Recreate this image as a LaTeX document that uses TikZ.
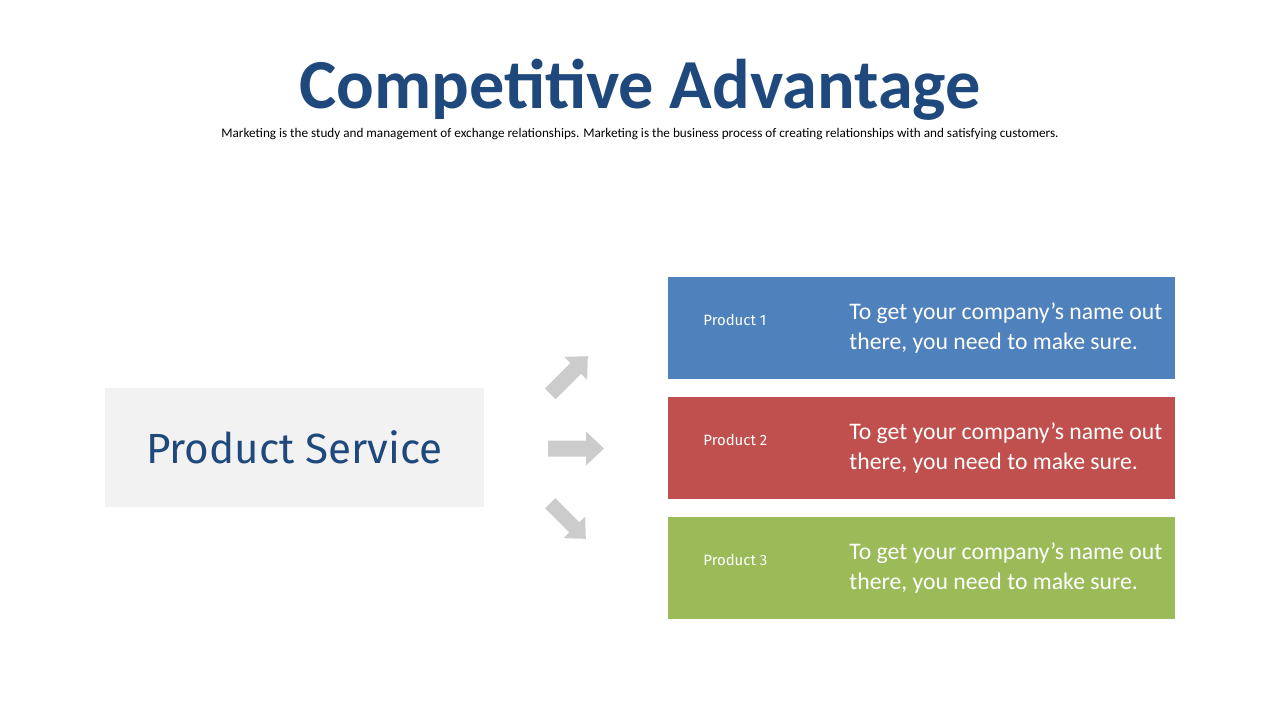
\documentclass[tikz,border=0pt]{standalone}
\usepackage{fontspec}
\setmainfont{Carlito}
\newfontfamily\rub{Fira Sans}
\definecolor{ttl}{HTML}{1F497D}
\definecolor{bA}{HTML}{4F81BD}
\definecolor{bB}{HTML}{C0504D}
\definecolor{bC}{HTML}{9BBB59}
\definecolor{arr}{HTML}{CCCCCC}
\begin{document}
\begin{tikzpicture}[x=0.02cm,y=-0.02cm,
  box/.style={draw=none,anchor=north west,inner sep=0pt},
  lab/.style={anchor=west,text=white,font=\rub\fontsize{8.5}{10}\selectfont,inner sep=0pt},
  body/.style={anchor=west,text=white,align=left,font=\fontsize{13.5}{17.5}\selectfont,inner sep=0pt},
  garrow/.pic={\fill[arr] (-28,-8) -- (10,-8) -- (10,-17) -- (28,0) -- (10,17) -- (10,8) -- (-28,8) -- cycle;}]
\useasboundingbox (0,0) rectangle (1280,720);
\node (title) at (640,90) {\fontsize{40}{46}\selectfont\bfseries\color{ttl}Competitive Advantage};
\node (sub) at (640,134) {\fontsize{7.5}{9}\selectfont Marketing is the study and management of exchange relationships. Marketing is the  business process of creating relationships with and satisfying customers.};
\fill[gray!10] (105,388) rectangle (484,507);
\node (ps) at (294.5,447.5) {\rub\fontsize{24}{28}\selectfont\color{ttl}Product Service};
\foreach \c/\y/\n in {bA/277/1,bB/397/2,bC/517/3}{
  \fill[\c] (668,\y) rectangle (1175,\y+102);
  \node[lab] (p\n) at (703,\y+43) {Product \n};
  \node[body] (t\n) at (849,\y+51) {To get your company’s name out\\there, you need to make sure.};
}
\pic[rotate=0] at (576,448.5) {garrow};
\pic[rotate=45,scale=0.95] at (569,375) {garrow};
\pic[rotate=-45,scale=0.9] at (568,521) {garrow};
\end{tikzpicture}
\end{document}
